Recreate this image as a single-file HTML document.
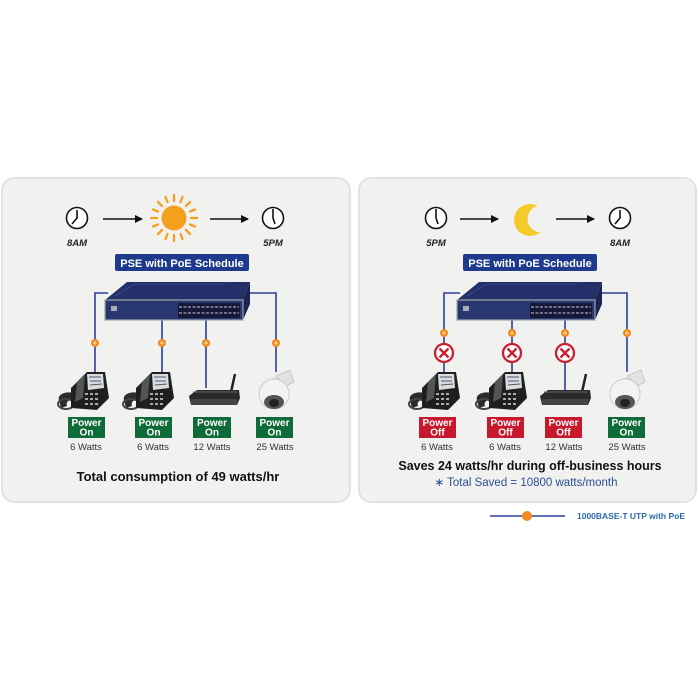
<!DOCTYPE html>
<html><head><meta charset="utf-8"><style>
html,body{margin:0;padding:0;background:#fff;width:698px;height:698px;overflow:hidden}
svg{display:block}
text{font-family:"Liberation Sans",Verdana,sans-serif}
</style></head><body>
<svg width="698" height="698" viewBox="0 0 698 698" xmlns="http://www.w3.org/2000/svg">
<defs>
<g id="phone">
  <path d="M2 32 C0 26 10 22 20 26 L22 32 C14 30 8 33 10 38 L4 40 Z" fill="#2b2b2b"/>
  <ellipse cx="9" cy="36" rx="8" ry="5" fill="none" stroke="#444" stroke-width="2"/>
  <path d="M14 20 L30 4 L48 4 L52 30 L40 42 L14 40 Z" fill="#1f1f1f"/>
  <path d="M30 6 L46 6 L47 20 L31 22 Z" fill="#d8dde0"/>
  <path d="M32 9 L44 9 M33 13 L44 13 M33 17 L45 16" stroke="#556" stroke-width="1"/>
  <g fill="#aaa"><rect x="28" y="25" width="3" height="2"/><rect x="33" y="25" width="3" height="2"/><rect x="38" y="25" width="3" height="2"/><rect x="28" y="30" width="3" height="2"/><rect x="33" y="30" width="3" height="2"/><rect x="38" y="30" width="3" height="2"/><rect x="28" y="35" width="3" height="2"/><rect x="33" y="35" width="3" height="2"/><rect x="38" y="35" width="3" height="2"/></g>
  <path d="M20 14 L28 6 L26 30 L18 34 Z" fill="#555"/>
</g>
<g id="router">
  <line x1="42" y1="18" x2="46" y2="0" stroke="#222" stroke-width="2.5"/>
  <path d="M0 22 L8 16 L50 16 L51 24 L48 31 L2 31 Z" fill="#2a2a2a"/>
  <path d="M2 25 L48 25 L48 31 L2 31 Z" fill="#444"/>
  <path d="M4 18 L48 18" stroke="#666" stroke-width="1"/>
</g>
<g id="cam">
  <path d="M18 6 L32 0 L36 12 L24 18 Z" fill="#e2e2e2" stroke="#bbb" stroke-width="0.7"/>
  <rect x="14" y="8" width="8" height="6" fill="#ccc"/>
  <circle cx="16" cy="24" r="15" fill="#f3f3f3" stroke="#ccc" stroke-width="1"/>
  <ellipse cx="16" cy="32" rx="10" ry="7" fill="#555"/>
  <ellipse cx="16" cy="33" rx="5" ry="4" fill="#222"/>
</g>
<g id="clock">
  <circle r="10.5" fill="#fff" stroke="#111" stroke-width="1.6"/>
</g>
<g id="sw">
  <path d="M0 18 L22 0 L145 0 L138 18 Z" fill="#24306a"/>
  <path d="M10 14 L30 2 L120 2" stroke="#3a4a8a" stroke-width="1" fill="none"/>
  <path d="M138 18 L145 0 L145 22 L138 38 Z" fill="#1b2450"/>
  <rect x="0" y="18" width="138" height="20" fill="#283770" stroke="#9aa" stroke-width="1.2"/>
  <rect x="6" y="24" width="6" height="5" fill="#aab"/>
  <rect x="73" y="21" width="62" height="15" fill="#15183a"/>
  <g stroke="#ccc" stroke-width="1" stroke-dasharray="3 1.5"><line x1="74" y1="25" x2="134" y2="25"/><line x1="74" y1="31" x2="134" y2="31"/></g>
</g>
<g id="dot"><circle r="4" fill="#f08a1c"/><circle r="1.6" fill="#ffd08a"/></g>
<g id="xc"><circle r="9" fill="#fff" stroke="#c8202f" stroke-width="2.3"/><path d="M-4.5 -4.5 L4.5 4.5 M4.5 -4.5 L-4.5 4.5" stroke="#c8202f" stroke-width="2.3"/></g>
<marker id="ah" markerWidth="8" markerHeight="8" refX="7" refY="4" orient="auto" markerUnits="userSpaceOnUse"><path d="M0 0 L8 4 L0 8 Z" fill="#111"/></marker>
</defs>

<rect x="2" y="178" width="348" height="324" rx="12" fill="#f1f1f0" stroke="#dcdcdc" stroke-width="1.5"/>
<rect x="359" y="178" width="337" height="324" rx="12" fill="#f1f1f0" stroke="#dcdcdc" stroke-width="1.5"/>

<use href="#clock" x="77" y="218"/>
<path d="M77 210 L77 218 L72 224" stroke="#111" stroke-width="1.6" fill="none"/>
<line x1="103" y1="219" x2="142" y2="219" stroke="#111" stroke-width="1.6" marker-end="url(#ah)"/>
<g transform="translate(174,218)" stroke="#f5a01c" stroke-width="2.3" stroke-linecap="round">
  <circle r="12.5" fill="#f5a01c" stroke="none"/>
  <line x1="0" y1="-17" x2="0" y2="-23"/><line x1="0" y1="17" x2="0" y2="23"/>
  <line x1="-17" y1="0" x2="-23" y2="0"/><line x1="17" y1="0" x2="23" y2="0"/>
  <line x1="12" y1="-12" x2="16" y2="-16"/><line x1="-12" y1="-12" x2="-16" y2="-16"/>
  <line x1="12" y1="12" x2="16" y2="16"/><line x1="-12" y1="12" x2="-16" y2="16"/>
  <line x1="6.5" y1="-16" x2="8.5" y2="-21"/><line x1="-6.5" y1="-16" x2="-8.5" y2="-21"/>
  <line x1="6.5" y1="16" x2="8.5" y2="21"/><line x1="-6.5" y1="16" x2="-8.5" y2="21"/>
  <line x1="16" y1="-6.5" x2="21" y2="-8.5"/><line x1="-16" y1="-6.5" x2="-21" y2="-8.5"/>
  <line x1="16" y1="6.5" x2="21" y2="8.5"/><line x1="-16" y1="6.5" x2="-21" y2="8.5"/>
</g>
<line x1="210" y1="219" x2="248" y2="219" stroke="#111" stroke-width="1.6" marker-end="url(#ah)"/>
<use href="#clock" x="273" y="218"/>
<path d="M273 209 L273 218 L275 224" stroke="#111" stroke-width="1.6" fill="none"/>
<text x="77" y="246" font-size="9.5" font-weight="bold" font-style="italic" text-anchor="middle" fill="#222">8AM</text>
<text x="273" y="246" font-size="9.5" font-weight="bold" font-style="italic" text-anchor="middle" fill="#222">5PM</text>
<rect x="115" y="254" width="134" height="17" rx="2" fill="#1e3a8c"/>
<text x="182" y="267" font-size="11" font-weight="bold" text-anchor="middle" fill="#fff">PSE with PoE Schedule</text>

<g stroke="#2d3f9a" stroke-width="1.6" fill="none">
<path d="M108 293 L95 293 L95 375"/>
<path d="M248 293 L276 293 L276 372"/>
<line x1="162" y1="315" x2="162" y2="378"/>
<line x1="206" y1="315" x2="206" y2="388"/>
</g>
<use href="#sw" x="105" y="282"/>
<use href="#dot" x="95" y="343"/><use href="#dot" x="162" y="343"/><use href="#dot" x="206" y="343"/><use href="#dot" x="276" y="343"/>
<use href="#phone" x="57" y="368"/>
<use href="#phone" x="122" y="368"/>
<use href="#router" x="189" y="374"/>
<use href="#cam" x="258" y="370"/>

<g font-size="10" font-weight="bold" fill="#fff" text-anchor="middle">
<rect x="68" y="417" width="37" height="21" fill="#0f6b38"/><text x="86.5" y="426">Power</text><text x="86.5" y="435.5">On</text>
<rect x="135" y="417" width="37" height="21" fill="#0f6b38"/><text x="153.5" y="426">Power</text><text x="153.5" y="435.5">On</text>
<rect x="193" y="417" width="38" height="21" fill="#0f6b38"/><text x="212" y="426">Power</text><text x="212" y="435.5">On</text>
<rect x="256" y="417" width="37" height="21" fill="#0f6b38"/><text x="274.5" y="426">Power</text><text x="274.5" y="435.5">On</text>
</g>
<g font-size="9.5" fill="#333" text-anchor="middle">
<text x="86" y="450">6 Watts</text><text x="153" y="450">6 Watts</text><text x="212" y="450">12 Watts</text><text x="275" y="450">25 Watts</text>
</g>
<text x="178" y="481" font-size="13" font-weight="bold" text-anchor="middle" fill="#111">Total consumption of 49 watts/hr</text>

<use href="#clock" x="436" y="218"/>
<path d="M436 209 L436 218 L438 224" stroke="#111" stroke-width="1.6" fill="none"/>
<line x1="460" y1="219" x2="498" y2="219" stroke="#111" stroke-width="1.6" marker-end="url(#ah)"/>
<circle cx="530" cy="220" r="16" fill="#f4cb2a"/>
<circle cx="541" cy="219" r="13.5" fill="#f1f1f0"/>
<line x1="556" y1="219" x2="594" y2="219" stroke="#111" stroke-width="1.6" marker-end="url(#ah)"/>
<use href="#clock" x="620" y="218"/>
<path d="M620 210 L620 218 L615 224" stroke="#111" stroke-width="1.6" fill="none"/>
<text x="436" y="246" font-size="9.5" font-weight="bold" font-style="italic" text-anchor="middle" fill="#222">5PM</text>
<text x="620" y="246" font-size="9.5" font-weight="bold" font-style="italic" text-anchor="middle" fill="#222">8AM</text>
<rect x="463" y="254" width="134" height="17" rx="2" fill="#1e3a8c"/>
<text x="530" y="267" font-size="11" font-weight="bold" text-anchor="middle" fill="#fff">PSE with PoE Schedule</text>

<g stroke="#2d3f9a" stroke-width="1.6" fill="none">
<path d="M460 293 L444 293 L444 375"/>
<path d="M598 293 L627 293 L627 372"/>
<line x1="512" y1="315" x2="512" y2="378"/>
<line x1="565" y1="315" x2="565" y2="390"/>
</g>
<use href="#sw" x="457" y="282"/>
<use href="#dot" x="444" y="333"/><use href="#dot" x="512" y="333"/><use href="#dot" x="565" y="333"/><use href="#dot" x="627" y="333"/>
<use href="#xc" x="444" y="353"/><use href="#xc" x="512" y="353"/><use href="#xc" x="565" y="353"/>
<use href="#phone" x="408" y="368"/>
<use href="#phone" x="475" y="368"/>
<use href="#router" x="540" y="374"/>
<use href="#cam" x="609" y="370"/>

<g font-size="10" font-weight="bold" fill="#fff" text-anchor="middle">
<rect x="419" y="417" width="37" height="21" fill="#c8182c"/><text x="437.5" y="426">Power</text><text x="437.5" y="435.5">Off</text>
<rect x="487" y="417" width="37" height="21" fill="#c8182c"/><text x="505.5" y="426">Power</text><text x="505.5" y="435.5">Off</text>
<rect x="545" y="417" width="37" height="21" fill="#c8182c"/><text x="563.5" y="426">Power</text><text x="563.5" y="435.5">Off</text>
<rect x="608" y="417" width="37" height="21" fill="#0f6b38"/><text x="626.5" y="426">Power</text><text x="626.5" y="435.5">On</text>
</g>
<g font-size="9.5" fill="#333" text-anchor="middle">
<text x="437" y="450">6 Watts</text><text x="505" y="450">6 Watts</text><text x="564" y="450">12 Watts</text><text x="627" y="450">25 Watts</text>
</g>
<text x="530" y="470" font-size="12.5" font-weight="bold" text-anchor="middle" fill="#111">Saves 24 watts/hr during off-business hours</text>
<text x="526" y="486" font-size="11.5" text-anchor="middle" fill="#2a4f92">∗ Total Saved = 10800 watts/month</text>

<line x1="490" y1="516" x2="565" y2="516" stroke="#2d3f9a" stroke-width="1.6"/>
<circle cx="527" cy="516" r="5" fill="#f08a1c"/>
<text x="577" y="519" font-size="8.5" font-weight="bold" fill="#2a6aa8">1000BASE-T UTP with PoE</text>
</svg>
</body></html>
